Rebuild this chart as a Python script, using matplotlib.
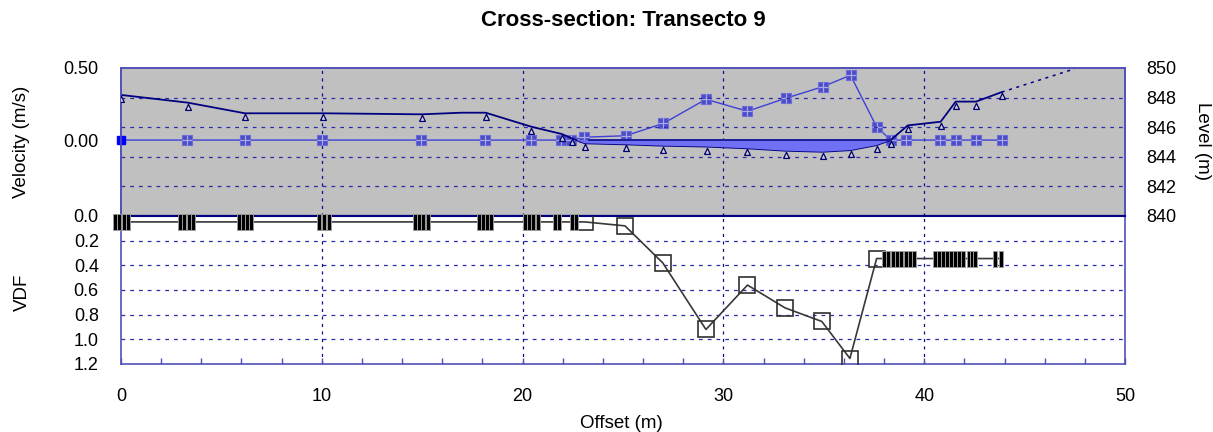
import matplotlib
matplotlib.use('Agg')
import matplotlib.pyplot as plt
import numpy as np
from matplotlib.ticker import MultipleLocator, FixedLocator

plt.rcParams['font.family'] = ['Liberation Sans', 'DejaVu Sans']

# ---------------- data ----------------
title = "Cross-section: Transecto 9"

# bed profile (offset m, level m)
bed_x = [0.0, 3.32, 6.17, 10.07, 14.97, 16.96, 18.16, 20.44, 21.95, 22.44, 23.1, 25.13,
         27.0, 29.16, 31.2, 33.1, 34.94, 36.33, 37.63, 38.33, 39.18, 40.82, 41.57,
         42.58, 43.86]
bed_z = [848.18, 847.66, 846.94, 846.94, 846.87, 846.98, 846.98, 846.03, 845.54, 845.25,
         844.91, 844.84, 844.75, 844.69, 844.57, 844.41, 844.34, 844.45, 844.79, 845.13,
         846.12, 846.37, 847.73, 847.73, 848.37]
bed_no_marker = [5]
bed_ext_x = [43.86, 47.5]
bed_ext_z = [848.37, 849.95]
water_level = 845.13

# velocity (offset m, m/s)
vel_x = [0.0, 3.3, 6.17, 10.0, 14.93, 18.13, 20.42, 21.9, 22.4, 23.07, 25.13, 27.0,
         29.13, 31.2, 33.1, 34.94, 36.33, 37.63, 38.33, 39.1, 40.79, 41.57, 42.58, 43.86]
vel_v = [0.0, 0.0, 0.0, 0.0, 0.0, 0.0, 0.0, 0.0, 0.0, 0.02, 0.03, 0.115,
         0.283, 0.2, 0.29, 0.37, 0.45, 0.092, 0.0, 0.0, 0.0, 0.0, 0.0, 0.0]

# VDF line and hollow markers
vdf_x = [0.0, 3.3, 6.17, 10.1, 14.96, 18.13, 20.44, 21.71, 22.56, 23.1, 25.1, 26.98,
         29.13, 31.2, 33.07, 34.9, 36.3, 37.63, 38.75, 41.23, 42.38, 43.86]
vdf_y = [0.048, 0.048, 0.048, 0.048, 0.048, 0.048, 0.048, 0.048, 0.048, 0.048, 0.08, 0.38,
         0.92, 0.56, 0.745, 0.855, 1.155, 0.345, 0.345, 0.345, 0.345, 0.345]
vdf_open_x = [23.1, 25.1, 26.98, 29.13, 31.2, 33.07, 34.9, 36.3, 37.63]
vdf_open_y = [0.048, 0.08, 0.38, 0.92, 0.56, 0.745, 0.855, 1.163, 0.345]

# VDF filled (black) markers
vdf_bar_x = [-0.30, -0.08, 0.13, 0.35, 2.94, 3.16, 3.39, 3.61, 5.86, 6.08, 6.27, 6.49,
             9.85, 10.11, 10.36, 14.64, 14.84, 15.06, 15.29, 17.83, 18.03, 18.23, 18.43,
             20.12, 20.32, 20.54, 20.77, 21.61, 21.81, 22.46, 22.66,
             38.0, 38.21, 38.43, 38.64, 38.85, 39.07, 39.28, 39.5,
             40.54, 40.74, 40.94, 41.14, 41.33, 41.53, 41.73, 41.93,
             42.21, 42.38, 42.55, 43.55, 43.8]
vdf_bar_y = [0.048] * 31 + [0.345] * 21

x_ticks = [0, 10, 20, 30, 40, 50]
level_ticks = [840, 842, 844, 846, 848, 850]
vel_ticks = [0.0, 0.5]
vdf_ticks = [0.0, 0.2, 0.4, 0.6, 0.8, 1.0, 1.2]

# ---------------- style ----------------
W, H = 1213, 432
fig = plt.figure(figsize=(W / 100, H / 100), dpi=100)

L, R = 121 / W, 1125 / W
top_rect = [L, 1 - 216 / H, R - L, 148 / H]
bot_rect = [L, 1 - 364 / H, R - L, 148 / H]

navy = '#000080'
spine_blue = '#5050b8'
grid_kw = dict(color='#2a2aac', linestyle=(0, (3, 4)), linewidth=0.9)
vgrid_kw = dict(color='#10108c', linestyle=(0, (2.5, 3.5)), linewidth=0.9)
tick_fs = 13

# ---- top panel: velocity (left) + level (right)
ax_vel = fig.add_axes(top_rect)
ax_vel.set_facecolor('#c0c0c0')
ax_lvl = ax_vel.twinx()

ax_lvl.set_ylim(840, 850)
vmax = 0.5
vmin = -vmax * (water_level - 840) / (850 - water_level)
ax_vel.set_ylim(vmin, vmax)
ax_vel.set_xlim(0, 50)

for xv in x_ticks[1:-1]:
    ax_vel.axvline(xv, zorder=1, **vgrid_kw)
for lv in level_ticks[1:-1]:
    ax_lvl.axhline(lv, zorder=0.5, **grid_kw)

# velocity
ax_vel.plot(vel_x, vel_v, color='#4040d8', lw=1.0, zorder=3)
ax_vel.plot(vel_x[1:], vel_v[1:], ls='none', marker='s', ms=6.5, mfc='#4c4cc8',
            mec='#6a6ad8', mew=0.8, zorder=4)
ax_vel.plot(vel_x[1:], vel_v[1:], ls='none', marker='+', ms=6.5, mec='#a8a8e8',
            mew=0.9, zorder=5)
ax_vel.plot(vel_x[:1], vel_v[:1], ls='none', marker='s', ms=6, mfc='#0000ff',
            mec='#0000ff', zorder=5, clip_on=False)

# bed + water fill
bx = np.array(bed_x)
bz = np.array(bed_z)
ax_lvl.fill_between(bx, bz, water_level, where=bz <= water_level + 1e-9,
                    interpolate=True, facecolor='#7070f4', edgecolor='none', zorder=3)
wet = [x for x, z in zip(bed_x, bed_z) if z <= water_level + 1e-9]
ax_lvl.plot([min(wet) + 0.2, max(wet)], [water_level, water_level], color='#1c1c98',
            lw=1.4, zorder=4)
ax_lvl.plot(bed_x, bed_z, color=navy, lw=1.3, zorder=2.5)
tri = [(-0.42, -1.0), (0.42, -1.0), (0.0, -0.12), (-0.42, -1.0)]
mk_idx = [i for i in range(len(bed_x)) if i not in bed_no_marker]
ax_lvl.plot([bed_x[i] for i in mk_idx], [bed_z[i] for i in mk_idx], ls='none',
            marker=tri, ms=10, mfc='#d0d0d0', mec='#000070', mew=0.9, zorder=5)
ax_lvl.plot(bed_ext_x, bed_ext_z, color=navy, lw=1.1, ls=(0, (2, 3)), zorder=2.5)

# ticks/labels top
ax_vel.yaxis.set_major_locator(FixedLocator(vel_ticks))
ax_vel.set_yticklabels(['0.00', '0.50'])
ax_vel.tick_params(axis='y', length=0, labelsize=tick_fs, pad=16)
ax_vel.tick_params(axis='x', bottom=False, labelbottom=False)
ax_lvl.yaxis.set_major_locator(FixedLocator(level_ticks))
ax_lvl.set_yticklabels([str(v) for v in level_ticks])
ax_lvl.tick_params(axis='y', length=0, labelsize=tick_fs, pad=15)
for a in (ax_vel, ax_lvl):
    for s in a.spines.values():
        s.set_color(spine_blue)
        s.set_linewidth(1.2)
    a.spines['bottom'].set_color(navy)
    a.spines['bottom'].set_linewidth(1.5)

# ---- bottom panel: VDF
ax_v = fig.add_axes(bot_rect)
ax_v.set_xlim(0, 50)
ax_v.set_ylim(1.2, 0.0)
for xv in x_ticks[1:-1]:
    ax_v.axvline(xv, zorder=1, **vgrid_kw)
for yv in vdf_ticks[1:-1]:
    ax_v.axhline(yv, zorder=1, **grid_kw)

ax_v.plot(vdf_x, vdf_y, color='#383838', lw=1.2, zorder=3)
ax_v.plot(vdf_open_x, vdf_open_y, ls='none', marker='s', ms=11, mfc='none',
          mec='#303030', mew=1.2, zorder=4)
bar = [(-0.25, -1), (0.25, -1), (0.25, 1), (-0.25, 1), (-0.25, -1)]
ax_v.plot(vdf_bar_x, vdf_bar_y, ls='none', marker=bar, ms=11.5, mfc='#000000',
          mec='#9a9a9a', mew=0.7, zorder=5, clip_on=False)

ax_v.xaxis.set_major_locator(FixedLocator(x_ticks))
ax_v.xaxis.set_minor_locator(MultipleLocator(2))
ax_v.tick_params(axis='x', which='both', direction='in', length=4, width=1,
                 color=spine_blue, labelsize=tick_fs, pad=17)
ax_v.yaxis.set_major_locator(FixedLocator(vdf_ticks))
ax_v.set_yticklabels([f'{v:.1f}' for v in vdf_ticks])
ax_v.tick_params(axis='y', length=0, labelsize=tick_fs, pad=16)
for s in ax_v.spines.values():
    s.set_color(spine_blue)
    s.set_linewidth(1.2)
ax_v.spines['top'].set_color(navy)
ax_v.spines['top'].set_linewidth(1.5)

# ---- text
fig.text(623 / W, 1 - 20 / H, title, ha='center', va='center', fontsize=16,
         fontweight='bold')
fig.text(22 / W, 1 - 142 / H, 'Velocity (m/s)', rotation=90, ha='center', va='center',
         fontsize=13.5)
fig.text(22 / W, 1 - 292 / H, 'VDF', rotation=90, ha='center', va='center', fontsize=13.5)
fig.text(1202 / W, 1 - 141 / H, 'Level (m)', rotation=270, ha='center', va='center',
         fontsize=13.5)
fig.text(621 / W, 1 - 424 / H, 'Offset (m)', ha='center', va='center', fontsize=13.5)

fig.savefig('out.png', dpi=100)
